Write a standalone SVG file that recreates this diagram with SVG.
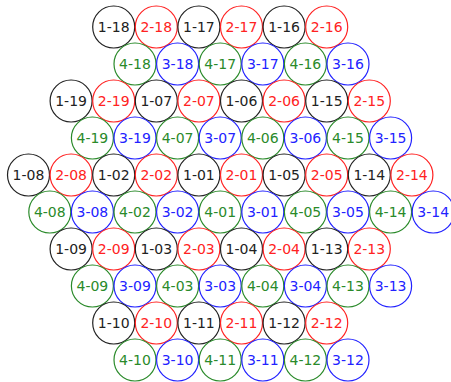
<svg xmlns="http://www.w3.org/2000/svg" width="451" height="382" viewBox="0 0 451 382">
<style>
circle{fill:none;stroke-width:1.2}
text{font-family:"DejaVu Sans",sans-serif;font-size:14px;text-anchor:middle;dominant-baseline:central}
.k circle{stroke:#222}.k text{fill:#222}
.r circle{stroke:#f22}.r text{fill:#f22}
.g circle{stroke:#2a8a2a}.g text{fill:#2a8a2a}
.b circle{stroke:#22f}.b text{fill:#22f}
</style>
<rect width="451" height="382" fill="#fff"/>
<g id="n1-18" class="k"><circle cx="113.7" cy="27" r="21"/><text x="113.7" y="27">1-18</text></g>
<g id="n2-18" class="r"><circle cx="156.3" cy="27" r="21"/><text x="156.3" y="27">2-18</text></g>
<g id="n1-17" class="k"><circle cx="198.9" cy="27" r="21"/><text x="198.9" y="27">1-17</text></g>
<g id="n2-17" class="r"><circle cx="241.5" cy="27" r="21"/><text x="241.5" y="27">2-17</text></g>
<g id="n1-16" class="k"><circle cx="284.1" cy="27" r="21"/><text x="284.1" y="27">1-16</text></g>
<g id="n2-16" class="r"><circle cx="326.7" cy="27" r="21"/><text x="326.7" y="27">2-16</text></g>

<g id="n4-18" class="g"><circle cx="135" cy="64" r="21"/><text x="135" y="64">4-18</text></g>
<g id="n3-18" class="b"><circle cx="177.6" cy="64" r="21"/><text x="177.6" y="64">3-18</text></g>
<g id="n4-17" class="g"><circle cx="220.2" cy="64" r="21"/><text x="220.2" y="64">4-17</text></g>
<g id="n3-17" class="b"><circle cx="262.8" cy="64" r="21"/><text x="262.8" y="64">3-17</text></g>
<g id="n4-16" class="g"><circle cx="305.4" cy="64" r="21"/><text x="305.4" y="64">4-16</text></g>
<g id="n3-16" class="b"><circle cx="348" cy="64" r="21"/><text x="348" y="64">3-16</text></g>

<g id="n1-19" class="k"><circle cx="71.1" cy="101" r="21"/><text x="71.1" y="101">1-19</text></g>
<g id="n2-19" class="r"><circle cx="113.7" cy="101" r="21"/><text x="113.7" y="101">2-19</text></g>
<g id="n1-07" class="k"><circle cx="156.3" cy="101" r="21"/><text x="156.3" y="101">1-07</text></g>
<g id="n2-07" class="r"><circle cx="198.9" cy="101" r="21"/><text x="198.9" y="101">2-07</text></g>
<g id="n1-06" class="k"><circle cx="241.5" cy="101" r="21"/><text x="241.5" y="101">1-06</text></g>
<g id="n2-06" class="r"><circle cx="284.1" cy="101" r="21"/><text x="284.1" y="101">2-06</text></g>
<g id="n1-15" class="k"><circle cx="326.7" cy="101" r="21"/><text x="326.7" y="101">1-15</text></g>
<g id="n2-15" class="r"><circle cx="369.3" cy="101" r="21"/><text x="369.3" y="101">2-15</text></g>

<g id="n4-19" class="g"><circle cx="92.4" cy="138" r="21"/><text x="92.4" y="138">4-19</text></g>
<g id="n3-19" class="b"><circle cx="135" cy="138" r="21"/><text x="135" y="138">3-19</text></g>
<g id="n4-07" class="g"><circle cx="177.6" cy="138" r="21"/><text x="177.6" y="138">4-07</text></g>
<g id="n3-07" class="b"><circle cx="220.2" cy="138" r="21"/><text x="220.2" y="138">3-07</text></g>
<g id="n4-06" class="g"><circle cx="262.8" cy="138" r="21"/><text x="262.8" y="138">4-06</text></g>
<g id="n3-06" class="b"><circle cx="305.4" cy="138" r="21"/><text x="305.4" y="138">3-06</text></g>
<g id="n4-15" class="g"><circle cx="348" cy="138" r="21"/><text x="348" y="138">4-15</text></g>
<g id="n3-15" class="b"><circle cx="390.6" cy="138" r="21"/><text x="390.6" y="138">3-15</text></g>

<g id="n1-08" class="k"><circle cx="28.5" cy="175" r="21"/><text x="28.5" y="175">1-08</text></g>
<g id="n2-08" class="r"><circle cx="71.1" cy="175" r="21"/><text x="71.1" y="175">2-08</text></g>
<g id="n1-02" class="k"><circle cx="113.7" cy="175" r="21"/><text x="113.7" y="175">1-02</text></g>
<g id="n2-02" class="r"><circle cx="156.3" cy="175" r="21"/><text x="156.3" y="175">2-02</text></g>
<g id="n1-01" class="k"><circle cx="198.9" cy="175" r="21"/><text x="198.9" y="175">1-01</text></g>
<g id="n2-01" class="r"><circle cx="241.5" cy="175" r="21"/><text x="241.5" y="175">2-01</text></g>
<g id="n1-05" class="k"><circle cx="284.1" cy="175" r="21"/><text x="284.1" y="175">1-05</text></g>
<g id="n2-05" class="r"><circle cx="326.7" cy="175" r="21"/><text x="326.7" y="175">2-05</text></g>
<g id="n1-14" class="k"><circle cx="369.3" cy="175" r="21"/><text x="369.3" y="175">1-14</text></g>
<g id="n2-14" class="r"><circle cx="411.9" cy="175" r="21"/><text x="411.9" y="175">2-14</text></g>

<g id="n4-08" class="g"><circle cx="49.8" cy="212" r="21"/><text x="49.8" y="212">4-08</text></g>
<g id="n3-08" class="b"><circle cx="92.4" cy="212" r="21"/><text x="92.4" y="212">3-08</text></g>
<g id="n4-02" class="g"><circle cx="135" cy="212" r="21"/><text x="135" y="212">4-02</text></g>
<g id="n3-02" class="b"><circle cx="177.6" cy="212" r="21"/><text x="177.6" y="212">3-02</text></g>
<g id="n4-01" class="g"><circle cx="220.2" cy="212" r="21"/><text x="220.2" y="212">4-01</text></g>
<g id="n3-01" class="b"><circle cx="262.8" cy="212" r="21"/><text x="262.8" y="212">3-01</text></g>
<g id="n4-05" class="g"><circle cx="305.4" cy="212" r="21"/><text x="305.4" y="212">4-05</text></g>
<g id="n3-05" class="b"><circle cx="348" cy="212" r="21"/><text x="348" y="212">3-05</text></g>
<g id="n4-14" class="g"><circle cx="390.6" cy="212" r="21"/><text x="390.6" y="212">4-14</text></g>
<g id="n3-14" class="b"><circle cx="433.2" cy="212" r="21"/><text x="433.2" y="212">3-14</text></g>

<g id="n1-09" class="k"><circle cx="71.1" cy="249" r="21"/><text x="71.1" y="249">1-09</text></g>
<g id="n2-09" class="r"><circle cx="113.7" cy="249" r="21"/><text x="113.7" y="249">2-09</text></g>
<g id="n1-03" class="k"><circle cx="156.3" cy="249" r="21"/><text x="156.3" y="249">1-03</text></g>
<g id="n2-03" class="r"><circle cx="198.9" cy="249" r="21"/><text x="198.9" y="249">2-03</text></g>
<g id="n1-04" class="k"><circle cx="241.5" cy="249" r="21"/><text x="241.5" y="249">1-04</text></g>
<g id="n2-04" class="r"><circle cx="284.1" cy="249" r="21"/><text x="284.1" y="249">2-04</text></g>
<g id="n1-13" class="k"><circle cx="326.7" cy="249" r="21"/><text x="326.7" y="249">1-13</text></g>
<g id="n2-13" class="r"><circle cx="369.3" cy="249" r="21"/><text x="369.3" y="249">2-13</text></g>

<g id="n4-09" class="g"><circle cx="92.4" cy="286" r="21"/><text x="92.4" y="286">4-09</text></g>
<g id="n3-09" class="b"><circle cx="135" cy="286" r="21"/><text x="135" y="286">3-09</text></g>
<g id="n4-03" class="g"><circle cx="177.6" cy="286" r="21"/><text x="177.6" y="286">4-03</text></g>
<g id="n3-03" class="b"><circle cx="220.2" cy="286" r="21"/><text x="220.2" y="286">3-03</text></g>
<g id="n4-04" class="g"><circle cx="262.8" cy="286" r="21"/><text x="262.8" y="286">4-04</text></g>
<g id="n3-04" class="b"><circle cx="305.4" cy="286" r="21"/><text x="305.4" y="286">3-04</text></g>
<g id="n4-13" class="g"><circle cx="348" cy="286" r="21"/><text x="348" y="286">4-13</text></g>
<g id="n3-13" class="b"><circle cx="390.6" cy="286" r="21"/><text x="390.6" y="286">3-13</text></g>

<g id="n1-10" class="k"><circle cx="113.7" cy="323" r="21"/><text x="113.7" y="323">1-10</text></g>
<g id="n2-10" class="r"><circle cx="156.3" cy="323" r="21"/><text x="156.3" y="323">2-10</text></g>
<g id="n1-11" class="k"><circle cx="198.9" cy="323" r="21"/><text x="198.9" y="323">1-11</text></g>
<g id="n2-11" class="r"><circle cx="241.5" cy="323" r="21"/><text x="241.5" y="323">2-11</text></g>
<g id="n1-12" class="k"><circle cx="284.1" cy="323" r="21"/><text x="284.1" y="323">1-12</text></g>
<g id="n2-12" class="r"><circle cx="326.7" cy="323" r="21"/><text x="326.7" y="323">2-12</text></g>

<g id="n4-10" class="g"><circle cx="135" cy="360" r="21"/><text x="135" y="360">4-10</text></g>
<g id="n3-10" class="b"><circle cx="177.6" cy="360" r="21"/><text x="177.6" y="360">3-10</text></g>
<g id="n4-11" class="g"><circle cx="220.2" cy="360" r="21"/><text x="220.2" y="360">4-11</text></g>
<g id="n3-11" class="b"><circle cx="262.8" cy="360" r="21"/><text x="262.8" y="360">3-11</text></g>
<g id="n4-12" class="g"><circle cx="305.4" cy="360" r="21"/><text x="305.4" y="360">4-12</text></g>
<g id="n3-12" class="b"><circle cx="348" cy="360" r="21"/><text x="348" y="360">3-12</text></g>
<g id="connectors"/>
</svg>
